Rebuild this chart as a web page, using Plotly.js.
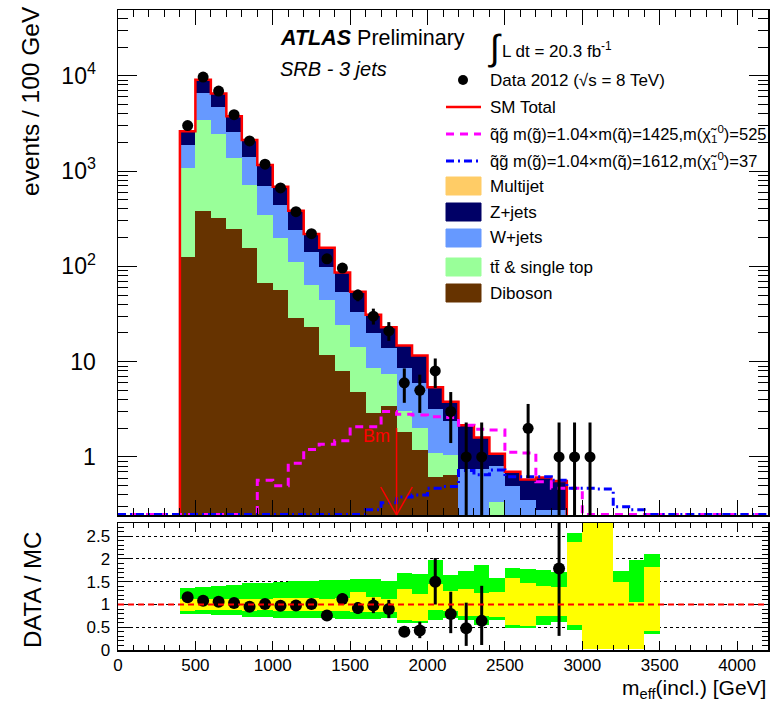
<!DOCTYPE html>
<html><head><meta charset="utf-8">
<script src="https://cdn.plot.ly/plotly-3.0.1.min.js"></script>
<style>body{margin:0;background:#fff}#chart{width:773px;height:703px}</style>
</head><body><div id="chart"></div>
<script>
// ---------------- data ----------------
const binCenters = [450,550,650,750,850,950,1050,1150,1250,1350,1450,1550,1650,1750,1850,1950,2050,2150,2250,2350,2450,2550,2650,2750,2850,2950,3050,3150,3250,3350,3450];
const binWidth = 100;
const diboson = [126,384,324,245,157,66.5,56.5,28.5,23,11.8,7.9,4.8,2.9,3.4,1.84,1.18,0.62,0.65,0.05,0.05,0.05,0.03,0.02,0.02,0.02,0.01,0.01,0.01,0,0,0];
const ttbar   = [961,3051,2126,1117,557,280,143.5,83.5,41,32.2,16.1,9.6,5.6,4.1,1.16,0.82,0.48,0.40,0.05,0.05,0.29,0.07,0.08,0.03,0.03,0.01,0.01,0.01,0,0,0];
const wjets   = [783,3105,2290,1228,702,351,241,128,76,54,30,19,11.5,6.5,5.5,4.0,2.1,1.35,0.65,0.65,0.46,0.4,0.25,0.23,0.23,0.08,0.03,0.03,0.02,0.02,0.02];
const zjets   = [750,2560,1760,1160,704,463,244,143,78,59,32,20.6,11,9,6.3,5.6,2.2,1.4,1.4,0.85,0.28,0.2,0.23,0.33,0.28,0.12,0.07,0.05,0.03,0.03,0.03];
const multijet= [0,0,0,0,0,0,0,0,0,0,0,0,0,0,0,0,0,0,0,0,0,0,0,0,0,0,0,0,0,0,0];
const dataCounts = [3000,9700,6900,3900,2070,1180,665,375,220,120,96,50,30,21,6,5,8,3,1,1,0,0,2,0,1,1,1,0,0,0,0];
const dataErrUp   = [55,98,83,62,45,34,26,19,15,11,10,7,6,5,2.5,2.3,2.8,1.8,1.3,1.3,0,0,1.6,0,1.3,1.3,1.3,0,0,0,0];
const dataErrDown = [55,98,83,62,45,34,26,19,15,11,10,7,5.5,4.5,2.3,2.1,2.7,1.6,0.999,0.999,0,0,1.4,0,0.999,0.999,0.999,0,0,0,0];
const signal1425 = [0,0,0,0,0,0.57,0.50,0.86,1.2,1.36,1.48,2.08,2.08,3.0,2.8,2.75,2.65,2.6,2.15,1.95,1.92,1.12,1.1,0.55,0.47,0.47,0,0,0,0,0];
const signal1612 = [0,0,0,0,0,0,0,0,0,0,0,0,0.28,0.33,0.38,0.40,0.47,0.49,0.72,0.65,0.73,0.62,0.62,0.62,0.57,0.47,0.47,0.46,0.30,0.28,0];
const ratioVals = [1.16,1.08,1.06,1.03,0.95,1.01,0.97,0.98,1.01,0.76,1.12,0.92,0.98,0.90,0.40,0.43,1.50,0.79,0.48,0.64,null,null,null,null,1.79,null,null,null,null,null,null];
const ratioErrUp   = [0.03,0.02,0.02,0.02,0.03,0.03,0.04,0.05,0.07,0.07,0.12,0.13,0.17,0.2,0.08,0.19,0.52,0.49,0.56,0.77,0,0,0,0,1.7,0,0,0,0,0,0];
const ratioErrDown = [0.03,0.02,0.02,0.02,0.03,0.03,0.04,0.05,0.07,0.07,0.12,0.13,0.17,0.2,0.08,0.17,0.50,0.42,0.39,0.53,0,0,0,0,1.48,0,0,0,0,0,0];
const greenLo  = [0.79,0.78,0.77,0.76,0.73,0.73,0.70,0.70,0.71,0.71,0.69,0.68,0.69,0.71,0.59,0.59,0.66,0.70,0.66,0.55,0.66,0.48,0.48,0.55,0.62,0.44,0.03,0.03,0.03,0.03,0.35];
const greenHi  = [1.37,1.38,1.40,1.42,1.47,1.47,1.50,1.52,1.52,1.53,1.54,1.56,1.56,1.52,1.69,1.66,1.97,1.65,1.73,1.86,1.58,1.80,1.78,1.75,1.72,2.57,3.5,3.5,1.74,1.97,2.10];
const yellowLo = [0.86,0.87,0.87,0.87,0.86,0.87,0.86,0.86,0.86,0.86,0.85,0.84,0.84,0.84,0.66,0.64,0.88,0.85,0.75,0.75,0.72,0.55,0.52,0.75,0.75,0.55,0.03,0.03,0.03,0.03,0.42];
const yellowHi = [1.12,1.11,1.12,1.12,1.12,1.12,1.14,1.14,1.15,1.13,1.15,1.28,1.16,1.13,1.34,1.22,1.45,1.30,1.35,1.25,1.28,1.58,1.48,1.40,1.38,2.38,3.5,3.5,1.50,1.06,1.83];
const xTickVals = [0,500,1000,1500,2000,2500,3000,3500,4000];
const yTickVals = [1,10,100,1000,10000];
const yTickText = ['1','10','10<sup>2</sup>','10<sup>3</sup>','10<sup>4</sup>'];
const ratioTickVals = [0,0.5,1,1.5,2,2.5];
const ratioTickText = ['0','0.5','1','1.5','2','2.5'];

// ---------------- geometry ----------------
const xRange = [0,4200];
const yLogRange = [-0.609, 4.69];
const ratioRange = [0, 2.79];
const FLOOR = Math.pow(10, yLogRange[0]) * 1.01;
const PL = 118, PR = 768, PT = 10, PB = 650;
const px = v => (v - PL) / (PR - PL);
const py = v => (PB - v) / (PB - PT);
const FONT = 'Liberation Sans, Arial, sans-serif';

const edgesLo = binCenters.map(c => c - binWidth/2);
const lastHi = binCenters[binCenters.length-1] + binWidth/2;
function stepLine(vals, extendFull) {
  const xs = [], ys = [];
  if (extendFull) { xs.push(xRange[0]); ys.push(FLOOR); }
  xs.push(edgesLo[0]); ys.push(FLOOR);
  vals.forEach((v,i) => { xs.push(edgesLo[i]); ys.push(v > 0 ? v : FLOOR); });
  xs.push(lastHi); ys.push(vals[vals.length-1] > 0 ? vals[vals.length-1] : FLOOR);
  if (extendFull) { xs.push(lastHi); ys.push(FLOOR); xs.push(xRange[1]); ys.push(FLOOR); }
  return {xs, ys};
}
const total = binCenters.map((_,i) => diboson[i]+ttbar[i]+wjets[i]+zjets[i]+multijet[i]);

const traces = [];
const bar = (vals, color, name) => ({type:'bar', x:binCenters, y:vals, width:binWidth, name,
  marker:{color, line:{width:0}}, xaxis:'x', yaxis:'y', showlegend:false, hoverinfo:'skip'});
traces.push(bar(diboson,'#663300','Diboson'));
traces.push(bar(ttbar,'#99ff99','ttbar'));
traces.push(bar(wjets,'#6699ff','W+jets'));
traces.push(bar(zjets,'#000066','Z+jets'));
traces.push(bar(multijet,'#ffcc66','Multijet'));

const tl = stepLine(total, false);
tl.xs.push(lastHi); tl.ys.push(FLOOR);
traces.push({type:'scatter', mode:'lines', x:tl.xs, y:tl.ys, line:{color:'#ff0000', width:2.5, shape:'hv'}, xaxis:'x', yaxis:'y', showlegend:false, hoverinfo:'skip'});
const s1 = stepLine(signal1425, true);
traces.push({type:'scatter', mode:'lines', x:s1.xs, y:s1.ys, line:{color:'#ff00ff', width:3, dash:'8px,6px', shape:'hv'}, xaxis:'x', yaxis:'y', showlegend:false, hoverinfo:'skip'});
const s2 = stepLine(signal1612, true);
traces.push({type:'scatter', mode:'lines', x:s2.xs, y:s2.ys, line:{color:'#0000ff', width:3, dash:'8px,4px,2px,4px', shape:'hv'}, xaxis:'x', yaxis:'y', showlegend:false, hoverinfo:'skip'});

traces.push({type:'scatter', mode:'markers', x:binCenters, y:dataCounts.map(v => v>0 ? v : null),
  marker:{color:'black', size:11, line:{color:'black', width:0}},
  error_y:{type:'data', symmetric:false, array:dataErrUp, arrayminus:dataErrDown, color:'black', thickness:3, width:0},
  xaxis:'x', yaxis:'y', showlegend:false, hoverinfo:'skip'});

// ratio bands (stacked)
const rbar = (vals, color, op) => ({type:'bar', x:binCenters, y:vals, width:binWidth,
  marker:{color, opacity:op, line:{width:0}}, xaxis:'x2', yaxis:'y2', showlegend:false, hoverinfo:'skip'});
traces.push(rbar(greenLo, '#ffffff', 0));
traces.push(rbar(yellowLo.map((v,i)=>v-greenLo[i]), '#00ff00', 1));
traces.push(rbar(yellowHi.map((v,i)=>v-yellowLo[i]), '#ffff00', 1));
traces.push(rbar(greenHi.map((v,i)=>v-yellowHi[i]), '#00ff00', 1));
traces.push({type:'scatter', mode:'markers', x:binCenters, y:ratioVals,
  marker:{color:'black', size:12},
  error_y:{type:'data', symmetric:false, array:ratioErrUp, arrayminus:ratioErrDown, color:'black', thickness:3, width:0},
  xaxis:'x2', yaxis:'y2', showlegend:false, hoverinfo:'skip'});

// minor tick positions for log axis
const logMinor = [];
for (let e = -1; e <= 4; e++) for (let k = 2; k <= 9; k++) logMinor.push(k*Math.pow(10,e));

const axBase = {showline:true, linecolor:'black', linewidth:1.5, mirror:'allticks', ticks:'inside', tickcolor:'black', zeroline:false, showgrid:false, tickfont:{family:FONT, size:17, color:'black'}};

const shapes = [
  {type:'line', xref:'x2', yref:'y2', x0:xRange[0], x1:xRange[1], y0:1, y1:1, line:{color:'#ff0000', width:2, dash:'6px,4px'}},
  // BM arrow
  {type:'line', xref:'x', yref:'paper', x0:1800, x1:1800, y0:py(515), y1:py(428), line:{color:'#ff0000', width:1.5}},
  {type:'line', xref:'x', yref:'paper', x0:1698, x1:1800, y0:py(487), y1:py(515), line:{color:'#ff0000', width:1.5}},
  {type:'line', xref:'x', yref:'paper', x0:1902, x1:1800, y0:py(487), y1:py(515), line:{color:'#ff0000', width:1.5}},
  // legend swatches
  {type:'circle', xref:'paper', yref:'paper', x0:px(458), x1:px(468), y0:py(85), y1:py(75), fillcolor:'black', line:{width:0}},
  {type:'line', xref:'paper', yref:'paper', x0:px(446), x1:px(481), y0:py(107), y1:py(107), line:{color:'#ff0000', width:2.5}},
  {type:'line', xref:'paper', yref:'paper', x0:px(446), x1:px(481), y0:py(134), y1:py(134), line:{color:'#ff00ff', width:3, dash:'8px,6px'}},
  {type:'line', xref:'paper', yref:'paper', x0:px(446), x1:px(481), y0:py(161), y1:py(161), line:{color:'#0000ff', width:3, dash:'8px,4px,2px,4px'}},
];
const swatch = (cy, color) => ({type:'rect', xref:'paper', yref:'paper', x0:px(446), x1:px(481), y0:py(cy+9), y1:py(cy-9), fillcolor:color, line:{color:color, width:1}});
shapes.push(swatch(186,'#ffcc66'), swatch(212,'#000066'), swatch(238,'#6699ff'), swatch(267,'#99ff99'), swatch(293,'#663300'));

const ann = (x, y, text, size, opts={}) => Object.assign({xref:'paper', yref:'paper', x:px(x), y:py(y), text, showarrow:false,
  xanchor:'left', yanchor:'middle', font:{family:FONT, size, color:'black'}}, opts);
const annotations = [
  ann(278, 38, '<b><i>ATLAS</i></b> Preliminary', 21.5),
  ann(278, 69, '<i>SRB - 3 jets</i>', 20),
  ann(486, 47, '∫', 36),
  ann(500, 50, 'L dt = 20.3 fb<sup>-1</sup>', 17),
  ann(488, 80, 'Data 2012 (√s = 8 TeV)', 17),
  ann(488, 107, 'SM Total', 17),
  ann(488, 134, 'q̃g̃ m(g̃)=1.04×m(q̃)=1425,m(χ̃<sub>1</sub><sup>0</sup>)=525', 16.5),
  ann(488, 161, 'q̃g̃ m(g̃)=1.04×m(q̃)=1612,m(χ̃<sub>1</sub><sup>0</sup>)=37', 16.5),
  ann(488, 186, 'Multijet', 17),
  ann(488, 212, 'Z+jets', 17),
  ann(488, 238, 'W+jets', 17),
  ann(488, 267, 'tt̄ & single top', 17),
  ann(488, 293, 'Diboson', 17),
  ann(376, 436, 'Bm', 18, {xanchor:'center', font:{family:FONT, size:18, color:'#ff0000'}}),
  ann(30, 4, 'events / 100 GeV', 24.5, {xanchor:'center', yanchor:'top', textangle:-90}),
  ann(32, 590, 'DATA / MC', 24, {xanchor:'center', textangle:-90}),
  ann(768, 704, 'm<sub>eff</sub>(incl.) [GeV]', 21, {xanchor:'right', yanchor:'bottom'}),
];

const layout = {
  width:773, height:703, margin:{l:PL, r:773-PR, t:PT, b:703-PB},
  paper_bgcolor:'white', plot_bgcolor:'white', barmode:'stack', bargap:0, showlegend:false,
  xaxis: Object.assign({}, axBase, {domain:[0,1], anchor:'y', range:xRange, tickvals:xTickVals, showticklabels:false, ticklen:15,
    minor:{dtick:100, tick0:0, ticks:'inside', ticklen:7, tickcolor:'black', showgrid:false}}),
  yaxis: Object.assign({}, axBase, {domain:[py(515),1], anchor:'x', type:'log', range:yLogRange, tickmode:'array', tickvals:yTickVals, ticktext:yTickText,
    ticklen:19, tickfont:{family:FONT, size:23, color:'black'}, ticklabelstandoff:16,
    minor:{tickmode:'array', tickvals:logMinor, ticks:'inside', ticklen:10, tickcolor:'black', showgrid:false}}),
  xaxis2: Object.assign({}, axBase, {domain:[0,1], anchor:'y2', range:xRange, tickvals:xTickVals, ticklen:9, ticklabelstandoff:-1,
    minor:{dtick:100, tick0:0, ticks:'inside', ticklen:5, tickcolor:'black', showgrid:false}}),
  yaxis2: Object.assign({}, axBase, {domain:[0,py(523)], anchor:'x2', range:ratioRange, tickmode:'array', tickvals:ratioTickVals, ticktext:ratioTickText,
    ticklen:13, tickfont:{family:FONT, size:17, color:'black'}, ticklabelstandoff:3,
    showgrid:true, gridcolor:'black', gridwidth:1, griddash:'dot',
    minor:{dtick:0.1, tick0:0, ticks:'inside', ticklen:6, tickcolor:'black', showgrid:false}}),
  shapes, annotations
};
Plotly.newPlot('chart', traces, layout, {staticPlot:true, displayModeBar:false});
</script>
</body></html>
